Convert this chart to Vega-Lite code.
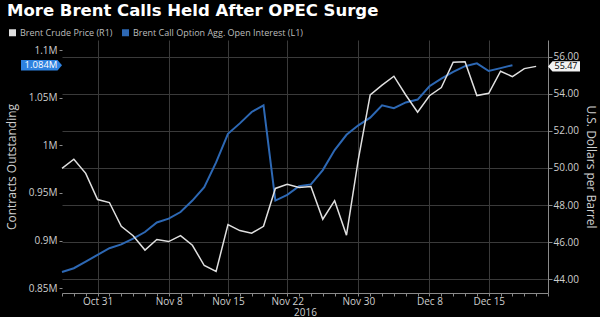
{
  "$schema": "https://vega.github.io/schema/vega-lite/v6.json",
  "width": 486,
  "height": 253,
  "autosize": {"type": "none"},
  "padding": {"left": 62, "top": 40, "right": 52, "bottom": 24},
  "background": "#000000",
  "title": {
    "text": "More Brent Calls Held After OPEC Surge",
    "anchor": "start",
    "frame": "group",
    "color": "#ffffff",
    "font": "DejaVu Sans",
    "fontSize": 16.5,
    "fontWeight": "bold",
    "dx": -55,
    "offset": -4,
    "baseline": "alphabetic"
  },
  "datasets": {
    "series": [
      {"date": "2016-10-26", "price": 49.98, "oi": 0.867},
      {"date": "2016-10-27", "price": 50.47, "oi": 0.871},
      {"date": "2016-10-28", "price": 49.71, "oi": 0.878},
      {"date": "2016-10-31", "price": 48.30, "oi": 0.885},
      {"date": "2016-11-01", "price": 48.14, "oi": 0.892},
      {"date": "2016-11-02", "price": 46.86, "oi": 0.896},
      {"date": "2016-11-03", "price": 46.35, "oi": 0.902},
      {"date": "2016-11-04", "price": 45.58, "oi": 0.909},
      {"date": "2016-11-07", "price": 46.15, "oi": 0.919},
      {"date": "2016-11-08", "price": 46.04, "oi": 0.923},
      {"date": "2016-11-09", "price": 46.36, "oi": 0.930},
      {"date": "2016-11-10", "price": 45.84, "oi": 0.942},
      {"date": "2016-11-11", "price": 44.75, "oi": 0.956},
      {"date": "2016-11-14", "price": 44.43, "oi": 0.982},
      {"date": "2016-11-15", "price": 46.95, "oi": 1.012},
      {"date": "2016-11-16", "price": 46.63, "oi": 1.023},
      {"date": "2016-11-17", "price": 46.49, "oi": 1.035},
      {"date": "2016-11-18", "price": 46.86, "oi": 1.042},
      {"date": "2016-11-21", "price": 48.90, "oi": 0.942},
      {"date": "2016-11-22", "price": 49.12, "oi": 0.948},
      {"date": "2016-11-23", "price": 48.95, "oi": 0.957},
      {"date": "2016-11-24", "price": 49.00, "oi": 0.959},
      {"date": "2016-11-25", "price": 47.24, "oi": 0.974},
      {"date": "2016-11-28", "price": 48.24, "oi": 0.995},
      {"date": "2016-11-29", "price": 46.38, "oi": 1.011},
      {"date": "2016-11-30", "price": 50.47, "oi": 1.021},
      {"date": "2016-12-01", "price": 53.94, "oi": 1.029},
      {"date": "2016-12-02", "price": 54.46, "oi": 1.042},
      {"date": "2016-12-05", "price": 54.94, "oi": 1.039},
      {"date": "2016-12-06", "price": 53.93, "oi": 1.045},
      {"date": "2016-12-07", "price": 53.00, "oi": 1.048},
      {"date": "2016-12-08", "price": 53.89, "oi": 1.062},
      {"date": "2016-12-09", "price": 54.33, "oi": 1.070},
      {"date": "2016-12-12", "price": 55.69, "oi": 1.077},
      {"date": "2016-12-13", "price": 55.72, "oi": 1.083},
      {"date": "2016-12-14", "price": 53.90, "oi": 1.086},
      {"date": "2016-12-15", "price": 54.02, "oi": 1.078},
      {"date": "2016-12-16", "price": 55.21, "oi": 1.081},
      {"date": "2016-12-19", "price": 54.92, "oi": 1.084},
      {"date": "2016-12-20", "price": 55.35, "oi": null},
      {"date": "2016-12-21", "price": 55.47, "oi": null}
    ],
    "tags": [
      {"axis": "L", "date": "2016-10-26", "value": 1.084, "label": "1.084M"},
      {"axis": "R", "date": "2016-12-22", "value": 55.47, "label": "55.47"}
    ]
  },
  "data": {"name": "series"},
  "encoding": {
    "x": {
      "field": "date", "type": "ordinal",
      "scale": {"type": "point", "padding": 0, "domain": ["2016-10-26","2016-10-27","2016-10-28","2016-10-31","2016-11-01","2016-11-02","2016-11-03","2016-11-04","2016-11-07","2016-11-08","2016-11-09","2016-11-10","2016-11-11","2016-11-14","2016-11-15","2016-11-16","2016-11-17","2016-11-18","2016-11-21","2016-11-22","2016-11-23","2016-11-24","2016-11-25","2016-11-28","2016-11-29","2016-11-30","2016-12-01","2016-12-02","2016-12-05","2016-12-06","2016-12-07","2016-12-08","2016-12-09","2016-12-12","2016-12-13","2016-12-14","2016-12-15","2016-12-16","2016-12-19","2016-12-20","2016-12-21","2016-12-22"]},
      "axis": {
        "title": "2016", "titleColor": "#cfcfcf", "titleFontSize": 10, "titleFontWeight": "normal", "titlePadding": 1, "titleFont": "Open Sans",
        "labelExpr": "indexof(['2016-10-31','2016-11-08','2016-11-15','2016-11-22','2016-11-30','2016-12-08','2016-12-15'], datum.value) >= 0 ? utcFormat(toDate(datum.value), '%b %-d') : ''",
        "labelAngle": 0, "labelColor": "#cfcfcf", "labelFontSize": 10, "labelFont": "Open Sans", "labelOverlap": false, "labelPadding": 0,
        "domain": true, "domainColor": "#8a8a8a", "tickColor": "#8a8a8a", "tickSize": 3,
        "grid": true, "gridColor": "#3a3a3a", "gridWidth": 1,
        "gridOpacity": {"condition": {"test": "indexof(['2016-10-31','2016-11-08','2016-11-15','2016-11-22','2016-11-30','2016-12-08','2016-12-15'], datum.value) >= 0", "value": 1}, "value": 0}
      }
    }
  },
  "layer": [
    {
      "layer": [
        {
          "mark": {"type": "line", "strokeWidth": 2},
          "encoding": {
            "y": {
              "field": "oi", "type": "quantitative",
              "scale": {"domain": [0.845, 1.1105], "nice": false, "zero": false},
              "axis": {
                "orient": "left", "values": [0.85, 0.9, 0.95, 1, 1.05, 1.1],
                "labelExpr": "format(datum.value, '.2~f') + 'M'",
                "title": "Contracts Outstanding", "grid": false, "domain": false,
                "tickColor": "#8a8a8a", "tickSize": 3, "labelPadding": 2,
                "labelColor": "#cfcfcf", "labelFontSize": 10, "labelFont": "Open Sans",
                "titleColor": "#cfcfcf", "titleFontSize": 12, "titleFontWeight": "normal", "titleFont": "Open Sans", "titlePadding": 10
              }
            },
            "color": {
              "datum": "Brent Call Option Agg. Open Interest (L1)", "type": "nominal",
              "scale": {"domain": ["Brent Crude Price (R1)", "Brent Call Option Agg. Open Interest (L1)"], "range": ["#e0e0e0", "#2d68b4"]},
              "legend": {
                "orient": "none", "legendX": -54, "legendY": -12, "direction": "horizontal", "title": null,
                "symbolType": "square", "symbolSize": 49, "symbolStrokeWidth": 0,
                "labelColor": "#bdbdbd", "labelFontSize": 9, "labelFont": "Open Sans", "labelOffset": 3, "labelLimit": 400, "columnPadding": 8,
                "encode": {"symbols": {"update": {"fill": {"scale": "color", "field": "value"}, "strokeWidth": {"value": 0}}}}
              }
            }
          }
        },
        {
          "data": {"name": "tags"},
          "transform": [{"filter": "datum.axis === 'L'"}],
          "mark": {"type": "point", "shape": "M-4.1,-0.52L-0.45,-0.52L0,0L-0.45,0.52L-4.1,0.52Z", "size": 400, "filled": true, "opacity": 1, "color": "#2e82e0", "strokeWidth": 0},
          "encoding": {
            "y": {"field": "value", "type": "quantitative"}
          }
        },
        {
          "data": {"name": "tags"},
          "transform": [{"filter": "datum.axis === 'L'"}],
          "mark": {"type": "text", "dx": -21, "align": "center", "baseline": "middle", "color": "#ffffff", "fontSize": 9.5, "font": "Open Sans"},
          "encoding": {
            "y": {"field": "value", "type": "quantitative"},
            "text": {"field": "label"}
          }
        }
      ]
    },
    {
      "layer": [
        {
          "mark": {"type": "line", "strokeWidth": 1.5},
          "encoding": {
            "y": {
              "field": "price", "type": "quantitative",
              "scale": {"domain": [43.27, 56.89], "nice": false, "zero": false},
              "axis": {
                "orient": "right", "values": [44, 45, 46, 47, 48, 49, 50, 51, 52, 53, 54, 55, 56],
                "labelExpr": "datum.value % 2 === 0 ? format(datum.value, '.2f') : ''",
                "labelOverlap": false,
                "title": "U.S. Dollars per Barrel",
                "grid": true, "gridColor": "#3a3a3a",
                "gridOpacity": {"condition": {"test": "datum.value % 2 === 0", "value": 1}, "value": 0},
                "domain": true, "domainColor": "#8a8a8a", "tickColor": "#8a8a8a",
                "tickSize": {"condition": {"test": "datum.value % 2 === 0", "value": 4}, "value": 2},
                "labelPadding": 1, "labelColor": "#cfcfcf", "labelFontSize": 10, "labelFont": "Open Sans",
                "titleColor": "#cfcfcf", "titleFontSize": 12, "titleFontWeight": "normal", "titleFont": "Open Sans", "titlePadding": 5
              }
            },
            "color": {"datum": "Brent Crude Price (R1)", "type": "nominal"}
          }
        },
        {
          "data": {"name": "tags"},
          "transform": [{"filter": "datum.axis === 'R'"}],
          "mark": {"type": "point", "shape": "M0,0L0.45,-0.52L3.2,-0.52L3.2,0.52L0.45,0.52Z", "size": 400, "filled": true, "opacity": 1, "color": "#f2f2f2", "strokeWidth": 0},
          "encoding": {
            "y": {"field": "value", "type": "quantitative"}
          }
        },
        {
          "data": {"name": "tags"},
          "transform": [{"filter": "datum.axis === 'R'"}],
          "mark": {"type": "text", "dx": 18, "align": "center", "baseline": "middle", "color": "#000000", "fontSize": 9, "font": "Open Sans"},
          "encoding": {
            "y": {"field": "value", "type": "quantitative"},
            "text": {"field": "label"}
          }
        }
      ]
    }
  ],
  "resolve": {"scale": {"y": "independent"}},
  "config": {
    "view": {"stroke": null},
    "font": "Open Sans"
  }
}
